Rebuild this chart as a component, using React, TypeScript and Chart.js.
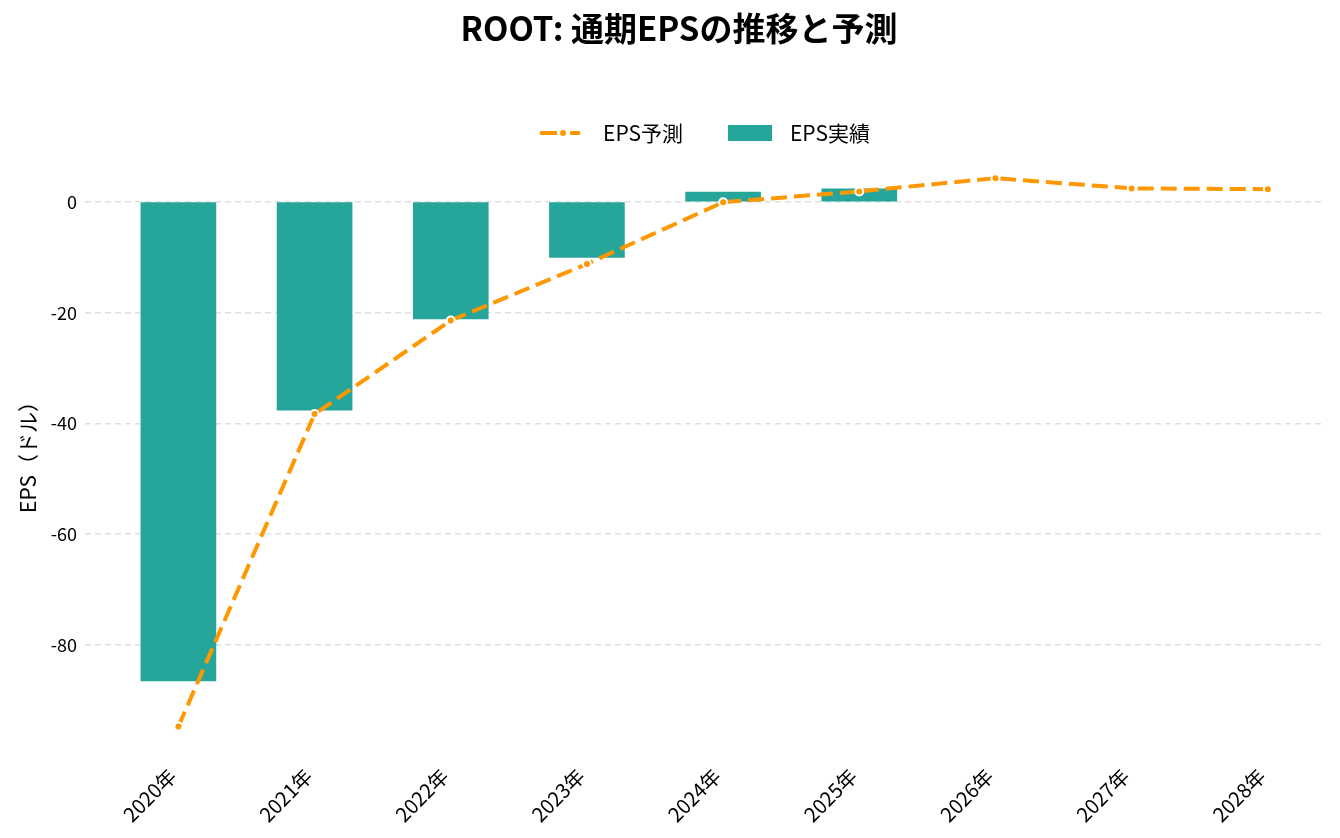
import { useEffect, useRef } from 'react'
import { Chart, registerables } from 'chart.js'

Chart.register(...registerables)

const chartTitle = 'ROOT: 通期EPSの推移と予測'
const years = ['2020年', '2021年', '2022年', '2023年', '2024年', '2025年', '2026年', '2027年', '2028年']
const actualEps = [-86.5, -37.6, -21.1, -10.0, 1.8, 2.35]
const forecastEps = [-94.7, -38.3, -21.4, -11.2, -0.05, 1.9, 4.3, 2.45, 2.3]
const yTicks = [-80, -60, -40, -20, 0]

const FONT = '"Noto Sans CJK JP", "Noto Sans", sans-serif'
const BAR = '#26a69a'
const LINE = '#ff9800'

// title and legend drawn by hand so the line sample can carry its dot
const header = {
  id: 'header',
  afterDraw(chart: Chart) {
    const { ctx, chartArea } = chart
    const line = chart.data.datasets[0] as any
    const bar = chart.data.datasets[1] as any
    ctx.save()

    ctx.font = `bold 33px ${FONT}`
    ctx.fillStyle = '#000'
    ctx.textAlign = 'center'
    ctx.textBaseline = 'alphabetic'
    ctx.fillText(chartTitle, chart.width / 2 + 9, 41)

    ctx.textAlign = 'left'
    ctx.font = `21px ${FONT}`
    ctx.textBaseline = 'middle'
    const w1 = ctx.measureText(line.label).width
    const w2 = ctx.measureText(bar.label).width
    const total = 40 + 23 + w1 + 45 + 44 + 18 + w2
    let x = (chartArea.left + chartArea.right) / 2 - total / 2
    const y = 133

    ctx.strokeStyle = LINE
    ctx.lineWidth = 4
    ctx.beginPath()
    ctx.moveTo(x, y)
    ctx.lineTo(x + 17, y)
    ctx.moveTo(x + 30, y)
    ctx.lineTo(x + 40, y)
    ctx.stroke()
    ctx.fillStyle = LINE
    ctx.beginPath()
    ctx.arc(x + 23, y, 3, 0, Math.PI * 2)
    ctx.fill()
    x += 40 + 23
    ctx.fillStyle = '#000'
    ctx.fillText(line.label, x, y)
    x += w1 + 45

    ctx.fillStyle = BAR
    ctx.fillRect(x, y - 8, 44, 16)
    x += 44 + 18
    ctx.fillStyle = '#000'
    ctx.fillText(bar.label, x, y)
    ctx.restore()
  },
}

export default function App() {
  const canvasRef = useRef<HTMLCanvasElement>(null)
  const chartRef = useRef<Chart | null>(null)

  useEffect(() => {
    document.body.style.margin = '0'
    if (!canvasRef.current) return

    chartRef.current = new Chart(canvasRef.current, {
      type: 'bar',
      data: {
        datasets: [
          {
            type: 'line',
            label: 'EPS予測',
            data: forecastEps.map((v, i) => ({ x: i, y: v })),
            borderColor: LINE,
            backgroundColor: LINE,
            borderWidth: 4,
            borderDash: [16, 7],
            tension: 0,
            pointRadius: 4,
            pointBackgroundColor: LINE,
            pointBorderColor: '#fff',
            pointBorderWidth: 2,
            order: 0,
          } as any,
          {
            type: 'bar',
            label: 'EPS実績',
            data: actualEps.map((v, i) => ({ x: i, y: v })),
            backgroundColor: BAR,
            borderWidth: 0,
            barThickness: 75,
            order: 1,
          },
        ],
      },
      options: {
        animation: false,
        responsive: true,
        maintainAspectRatio: false,
        layout: { padding: { left: 0, right: 15, top: 151, bottom: 0 } },
        plugins: {
          legend: { display: false },
          tooltip: { enabled: false },
          title: { display: false },
        },
        scales: {
          x: {
            type: 'linear',
            offset: false,
            min: -0.686,
            max: 8.42,
            grid: { display: false, offset: false },
            border: { display: false },
            afterBuildTicks: (s) => {
              s.ticks = years.map((_, i) => ({ value: i }))
            },
            afterFit: (s) => {
              s.height = 85
            },
            ticks: {
              autoSkip: false,
              minRotation: 45,
              maxRotation: 45,
              padding: 3,
              labelOffset: -6,
              color: '#000',
              font: { family: FONT, size: 20 },
              callback: (v) => years[Number(v)] ?? '',
            },
          },
          y: {
            min: -99.5,
            max: 9.2,
            border: { display: false, dash: [6, 4] },
            grid: { color: '#e0e0e0', lineWidth: 1.5, drawTicks: false },
            afterBuildTicks: (s) => {
              s.ticks = yTicks.map((v) => ({ value: v }))
            },
            afterFit: (s) => {
              s.width = 85
            },
            title: {
              display: true,
              text: 'EPS（ドル）',
              color: '#000',
              font: { family: FONT, size: 21 },
              padding: { top: 15, bottom: 0 },
            },
            ticks: {
              padding: 8,
              color: '#000',
              font: { family: FONT, size: 18 },
            },
          },
        },
      },
      plugins: [header],
    })

    return () => {
      chartRef.current?.destroy()
      chartRef.current = null
    }
  }, [])

  return (
    <div style={{ position: 'relative', width: 1340, height: 838 }}>
      <canvas ref={canvasRef} />
    </div>
  )
}
